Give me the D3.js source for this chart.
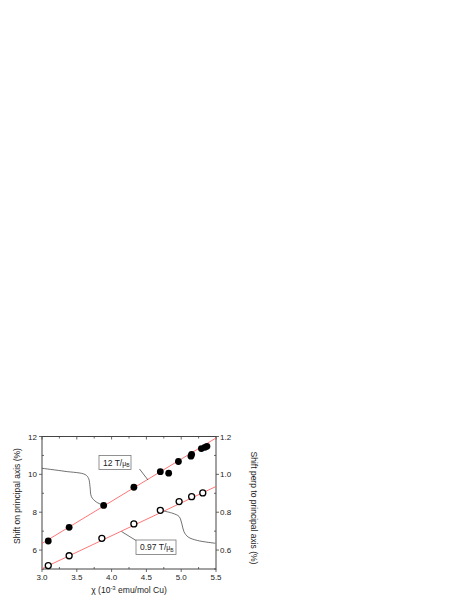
<!DOCTYPE html>
<html><head><meta charset="utf-8">
<script src="https://cdn.jsdelivr.net/npm/d3@7/dist/d3.min.js"></script>
<style>body{margin:0;background:#fff}svg text{font-family:"Liberation Sans",Arial,sans-serif;fill:#222}</style>
</head><body><svg id="c" width="471" height="609"></svg>
<script>
// data
const filledX = [3.09, 3.39, 3.886, 4.32, 4.70, 4.82, 4.96, 5.14, 5.15, 5.29, 5.34, 5.37];
const filledY = [6.48, 7.20, 8.36, 9.32, 10.14, 10.06, 10.68, 10.96, 11.06, 11.36, 11.43, 11.48];
const openX = [3.09, 3.39, 3.86, 4.32, 4.70, 4.97, 5.15, 5.31];
const openY = [5.18, 5.70, 6.62, 7.38, 8.10, 8.56, 8.82, 9.02];
const fitTopX = [3.0, 5.5], fitTopY = [6.35, 11.92];
const fitBotX = [3.0, 5.5], fitBotY = [5.02, 9.36];
const curveUpX = [3.0, 3.33, 3.62, 3.67, 3.69, 3.71, 3.78, 3.86];
const curveUpY = [10.32, 10.16, 9.99, 9.78, 9.35, 8.82, 8.54, 8.40];
const curveLoX = [4.75, 4.88, 4.97, 5.01, 5.04, 5.10, 5.23, 5.49];
const curveLoY = [8.06, 7.94, 7.77, 7.38, 6.97, 6.69, 6.51, 6.36];
const xTicks = [3.0, 3.5, 4.0, 4.5, 5.0, 5.5];
const yLeftTicks = [6, 8, 10, 12];
const yRightTicks = [0.6, 0.8, 1.0, 1.2];

const svg = d3.select("#c");
const L = 42, R = 216, T = 436.5, B = 569;
const x = d3.scaleLinear().domain([3.0, 5.5]).range([L, R]);
const y = d3.scaleLinear().domain([5, 12]).range([B, T]);
const y2 = d3.scaleLinear().domain([0.5, 1.2]).range([B, T]);

const fs = 8;
// frame
svg.append("rect").attr("x", L).attr("y", T).attr("width", R - L).attr("height", B - T)
  .attr("fill", "none").attr("stroke", "#444").attr("stroke-width", 1);

// axes
const ax = svg.append("g").attr("stroke", "#444").attr("stroke-width", 0.8);
// bottom
d3.range(3.0, 5.51, 0.25).forEach(v => {
  const major = xTicks.some(t => Math.abs(t - v) < 1e-6);
  ax.append("line").attr("x1", x(v)).attr("x2", x(v)).attr("y1", B).attr("y2", major ? B + 3 : B - 2);
  ax.append("line").attr("x1", x(v)).attr("x2", x(v)).attr("y1", T).attr("y2", major ? T + 3 : T + 2);
});
xTicks.forEach(v => svg.append("text").attr("x", x(v)).attr("y", B + 11).attr("text-anchor", "middle")
  .attr("font-size", fs).text(v.toFixed(1)));
// left
d3.range(5, 12.01, 1).forEach(v => {
  const major = yLeftTicks.includes(v);
  ax.append("line").attr("x1", L).attr("x2", major ? L - 3 : L + 2).attr("y1", y(v)).attr("y2", y(v));
});
yLeftTicks.forEach(v => svg.append("text").attr("x", L - 5).attr("y", y(v) + 3).attr("text-anchor", "end")
  .attr("font-size", fs).text(v));
// right
d3.range(0.5, 1.201, 0.1).forEach(v => {
  const major = yRightTicks.some(t => Math.abs(t - v) < 1e-6);
  ax.append("line").attr("x1", R).attr("x2", major ? R + 3 : R - 2).attr("y1", y2(v)).attr("y2", y2(v));
});
yRightTicks.forEach(v => svg.append("text").attr("x", R + 4).attr("y", y2(v) + 3).attr("text-anchor", "start")
  .attr("font-size", fs).text(v.toFixed(1)));

// axis titles
svg.append("text").attr("transform", `translate(20,${496}) rotate(-90)`).attr("text-anchor", "middle")
  .attr("font-size", 8.5).text("Shift on principal axis (%)");
svg.append("text").attr("transform", `translate(251,${508}) rotate(90)`).attr("text-anchor", "middle")
  .attr("font-size", 8.5).text("Shift perp to principal axis (%)");
const xt = svg.append("text").attr("x", 129).attr("y", 593).attr("text-anchor", "middle").attr("font-size", 8.5);
xt.append("tspan").text("\u03C7 (10");
xt.append("tspan").attr("dy", -3).attr("font-size", 6).text("-3");
xt.append("tspan").attr("dy", 3).text(" emu/mol Cu)");

// fit lines
const line = d3.line().x(d => x(d[0])).y(d => y(d[1]));
svg.append("path").attr("d", line(d3.zip(fitTopX, fitTopY))).attr("stroke", "#f66").attr("stroke-width", 0.9).attr("fill", "none");
svg.append("path").attr("d", line(d3.zip(fitBotX, fitBotY))).attr("stroke", "#f66").attr("stroke-width", 0.9).attr("fill", "none");

// curves
const cline = d3.line().x(d => x(d[0])).y(d => y(d[1])).curve(d3.curveCatmullRom);
svg.append("path").attr("d", cline(d3.zip(curveUpX, curveUpY))).attr("stroke", "#333").attr("stroke-width", 0.7).attr("fill", "none");
svg.append("path").attr("d", cline(d3.zip(curveLoX, curveLoY))).attr("stroke", "#333").attr("stroke-width", 0.7).attr("fill", "none");

// points
d3.zip(filledX, filledY).forEach(d => svg.append("circle").attr("cx", x(d[0])).attr("cy", y(d[1])).attr("r", 3.4).attr("fill", "#000"));
d3.zip(openX, openY).forEach(d => svg.append("circle").attr("cx", x(d[0])).attr("cy", y(d[1])).attr("r", 3.0)
  .attr("fill", "#fff").attr("stroke", "#000").attr("stroke-width", 1.3));

// labels
function label(bx, by, bw, bh, main, lx1, ly1, lx2, ly2) {
  svg.append("line").attr("x1", lx1).attr("y1", ly1).attr("x2", lx2).attr("y2", ly2).attr("stroke", "#333").attr("stroke-width", 0.7);
  svg.append("rect").attr("x", bx).attr("y", by).attr("width", bw).attr("height", bh).attr("fill", "#fff")
    .attr("stroke", "#777").attr("stroke-width", 0.8);
  const t = svg.append("text").attr("x", bx + 4).attr("y", by + bh / 2 + 3).attr("font-size", 8.5);
  t.append("tspan").text(main);
  t.append("tspan").attr("font-size", 7).text("\u03BC");
  t.append("tspan").attr("font-size", 5).attr("dy", 1.5).text("B");
}
label(99, 455.5, 32, 14, "12 T/", 139.5, 469, 148, 480);
label(136, 540, 40, 14.5, "0.97 T/", 121.5, 531.5, 136, 540.5);
</script></body></html>
